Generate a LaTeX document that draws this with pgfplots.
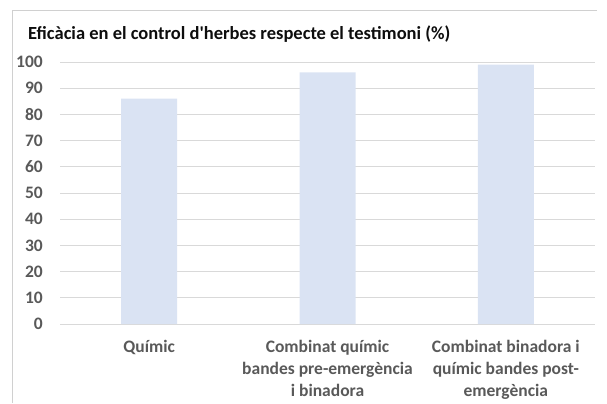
\documentclass[border=0pt]{standalone}
\usepackage{fontspec}
\setmainfont{Carlito}
\usepackage{pgfplots}
\pgfplotsset{compat=1.18}
\definecolor{barblue}{HTML}{DAE3F3}
\definecolor{gridgray}{HTML}{D9D9D9}
\definecolor{framegray}{HTML}{D0D0D0}
\definecolor{txtgray}{HTML}{595959}
\definecolor{ttlgray}{HTML}{0D0D0D}
\begin{document}
\begin{tikzpicture}[x=1bp,y=1bp]
\path[use as bounding box] (0,0) rectangle (607,403);
\draw[framegray, line width=1bp] (12,0) -- (12,392) -- (597,392);
\node[anchor=west, inner sep=0pt, font=\fontsize{18.5bp}{22bp}\selectfont\bfseries, text=ttlgray] at (28,369) {Efic\`acia en el control d\textquotesingle herbes respecte el testimoni (\%)};
\begin{axis}[
  at={(60bp,79bp)}, anchor=south west,
  scale only axis, width=535bp, height=262bp,
  xmin=-0.5, xmax=2.5, ymin=0, ymax=100,
  ytick={0,10,...,100},
  xtick={0,1,2},
  xticklabels={Qu\'imic, {Combinat qu\'imic\\bandes pre-emerg\`encia\\i binadora}, {Combinat binadora i\\qu\'imic bandes post-\\emerg\`encia}},
  axis x line*=bottom,
  axis y line*=left,
  x axis line style={gridgray, line width=0.8bp, -},
  y axis line style={draw=none},
  ymajorgrids, grid style={gridgray, line width=0.8bp},
  major tick length=0pt,
  tick style={draw=none},
  yticklabel style={inner sep=0pt, xshift=-17bp, text=txtgray, font=\fontsize{17.5bp}{21bp}\selectfont\bfseries},
  xticklabel style={inner sep=0pt, anchor=north, yshift=-16bp, align=center, text=txtgray, font=\fontsize{17.5bp}{22bp}\selectfont\bfseries},
  /pgf/number format/assume math mode=true,
  clip=false,
]
\addplot[ybar, bar width=56bp, fill=barblue, draw=none] coordinates {(0,86) (1,96) (2,99)};
\end{axis}
\end{tikzpicture}
\end{document}
